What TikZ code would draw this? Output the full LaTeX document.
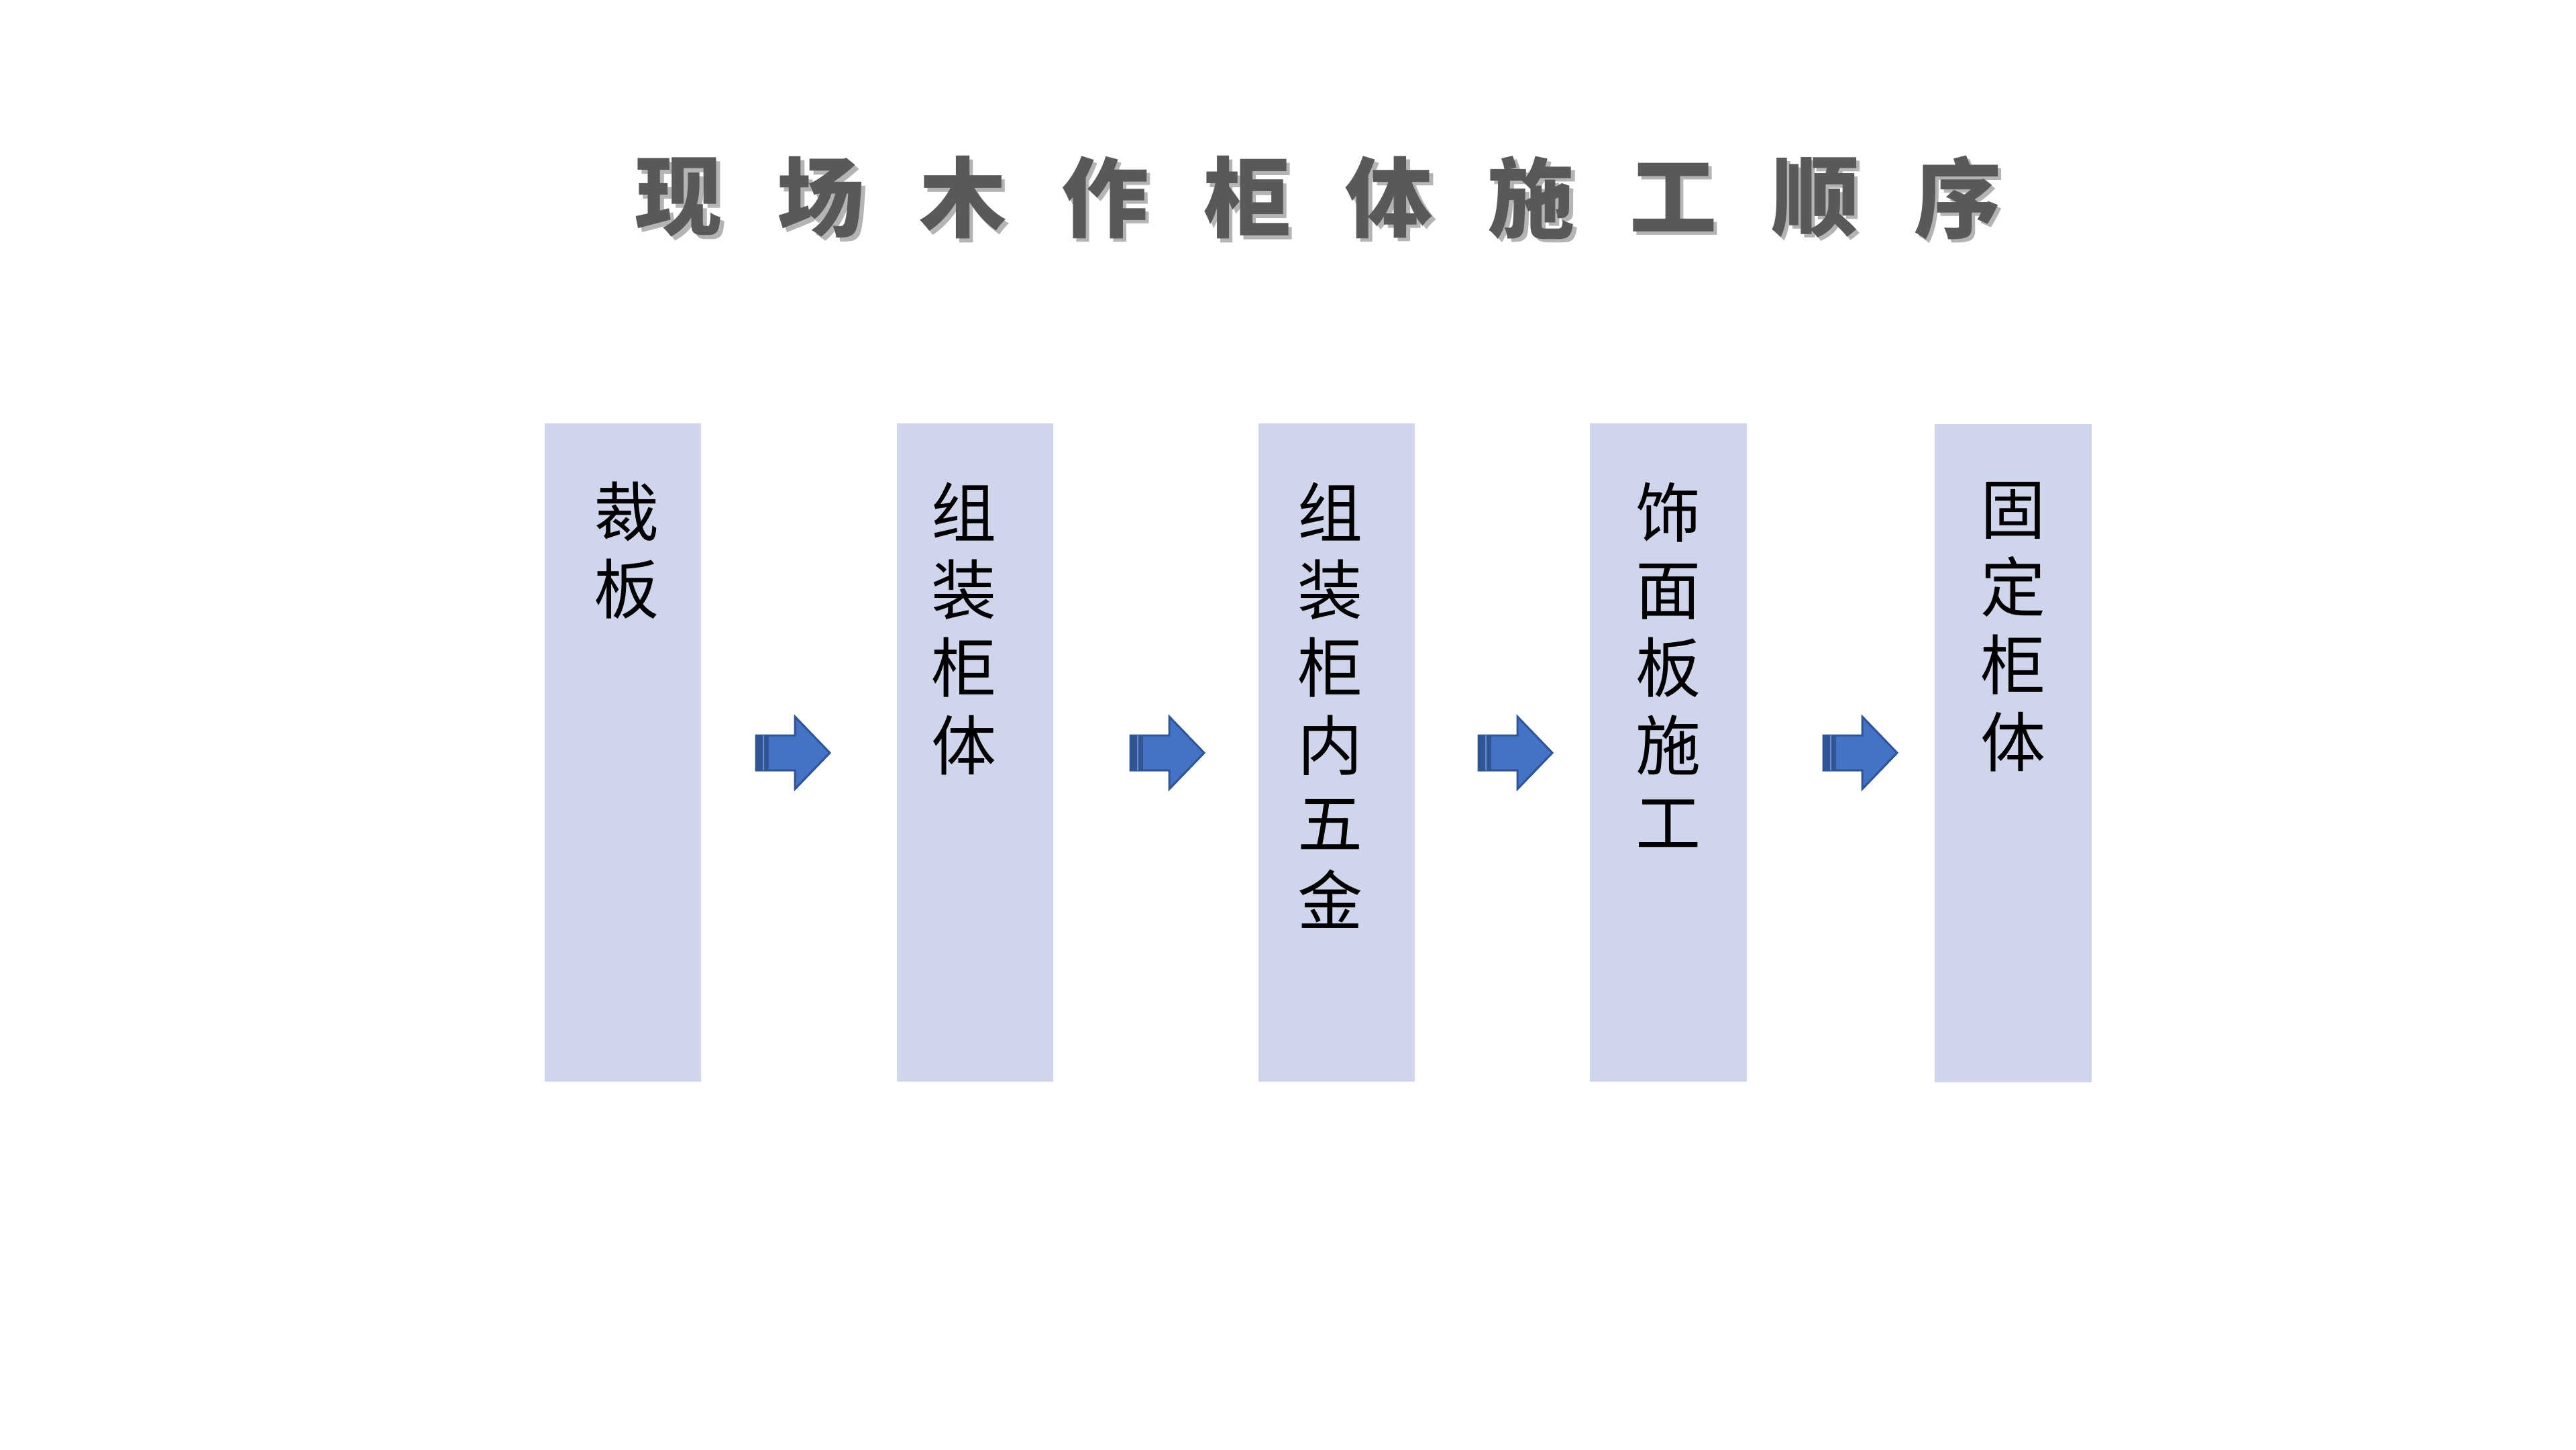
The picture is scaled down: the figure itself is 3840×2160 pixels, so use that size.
\documentclass[tikz,border=0pt]{standalone}
\usepackage{fontspec}
\newfontfamily\songti{Noto Sans CJK SC}
\newfontfamily\heiti{Noto Sans CJK SC}
\definecolor{boxfill}{HTML}{CFD5EA}
\definecolor{titlegray}{HTML}{595959}
\definecolor{titleshade}{HTML}{B4B4B4}
\definecolor{arrowfill}{HTML}{4472C4}
\definecolor{arrowdark}{HTML}{2F5597}
% a title character with its soft shadow set behind it
\newcommand\shadedchar[1]{%
  \makebox[0pt][l]{\hspace*{1.5pt}\raisebox{-1.5pt}{\textcolor{titleshade}{#1}}}#1}
\tikzset{
  stepbox/.style={rectangle, fill=boxfill, draw=none, inner sep=0pt,
    minimum width=2.33cm, minimum height=9.81cm},
  steptext/.style={anchor=north, inner sep=0pt, align=center,
    font={\songti\fontsize{27.6}{32.9}\selectfont}},
  titlechar/.style={inner sep=0pt, text=titlegray,
    font={\heiti\bfseries\fontsize{37}{40}\selectfont}},
  stepArrow/.pic={
    \filldraw [fill=arrowfill, draw=arrowdark, line width=0.85pt, line join=miter]
      (0,-26) -- (58,-26) -- (58,-54) -- (110,0) -- (58,54) -- (58,26) -- (0,26) -- cycle;
    \fill [arrowdark] (0,-26) rectangle (19,26);
    \draw [arrowfill!80!white, line width=0.5pt] (11,-26) -- (11,26);
  }
}
\begin{document}
\begin{tikzpicture}[x=0.01cm, y=-0.01cm]
    \useasboundingbox (0,0) rectangle (3840,2160);
    \fill [white] (0,0) rectangle (3840,2160);

    % title, one character at a time
    \foreach \ch [count=\i] in {现,场,木,作,柜,体,施,工,顺,序}
      \node [titlechar] (t\i) at ({1012+211.8*(\i-1)},297) {\shadedchar{\ch}};

    % step boxes
    \node [stepbox] (box1) at (928.5,1121.5) {};
    \node [stepbox] (box2) at (1453.5,1121.5) {};
    \node [stepbox] (box3) at (1992.5,1121.5) {};
    \node [stepbox] (box4) at (2487,1121.5) {};
    \node [stepbox] (box5) at (3001,1122.5) {};

    \node [steptext] (txt1) at (934,717) {裁\\板};
    \node [steptext] (txt2) at (1437,718) {组\\装\\柜\\体};
    \node [steptext] (txt3) at (1983,718) {组\\装\\柜\\内\\五\\金};
    \node [steptext] (txt4) at (2487,718) {饰\\面\\板\\施\\工};
    \node [steptext] (txt5) at (3001,718) {固\\定\\柜\\体};

    % arrows between the steps
    \foreach \ax in {1127,1685,2204,2718}
      \pic at (\ax,1122) {stepArrow};
\end{tikzpicture}
\end{document}
